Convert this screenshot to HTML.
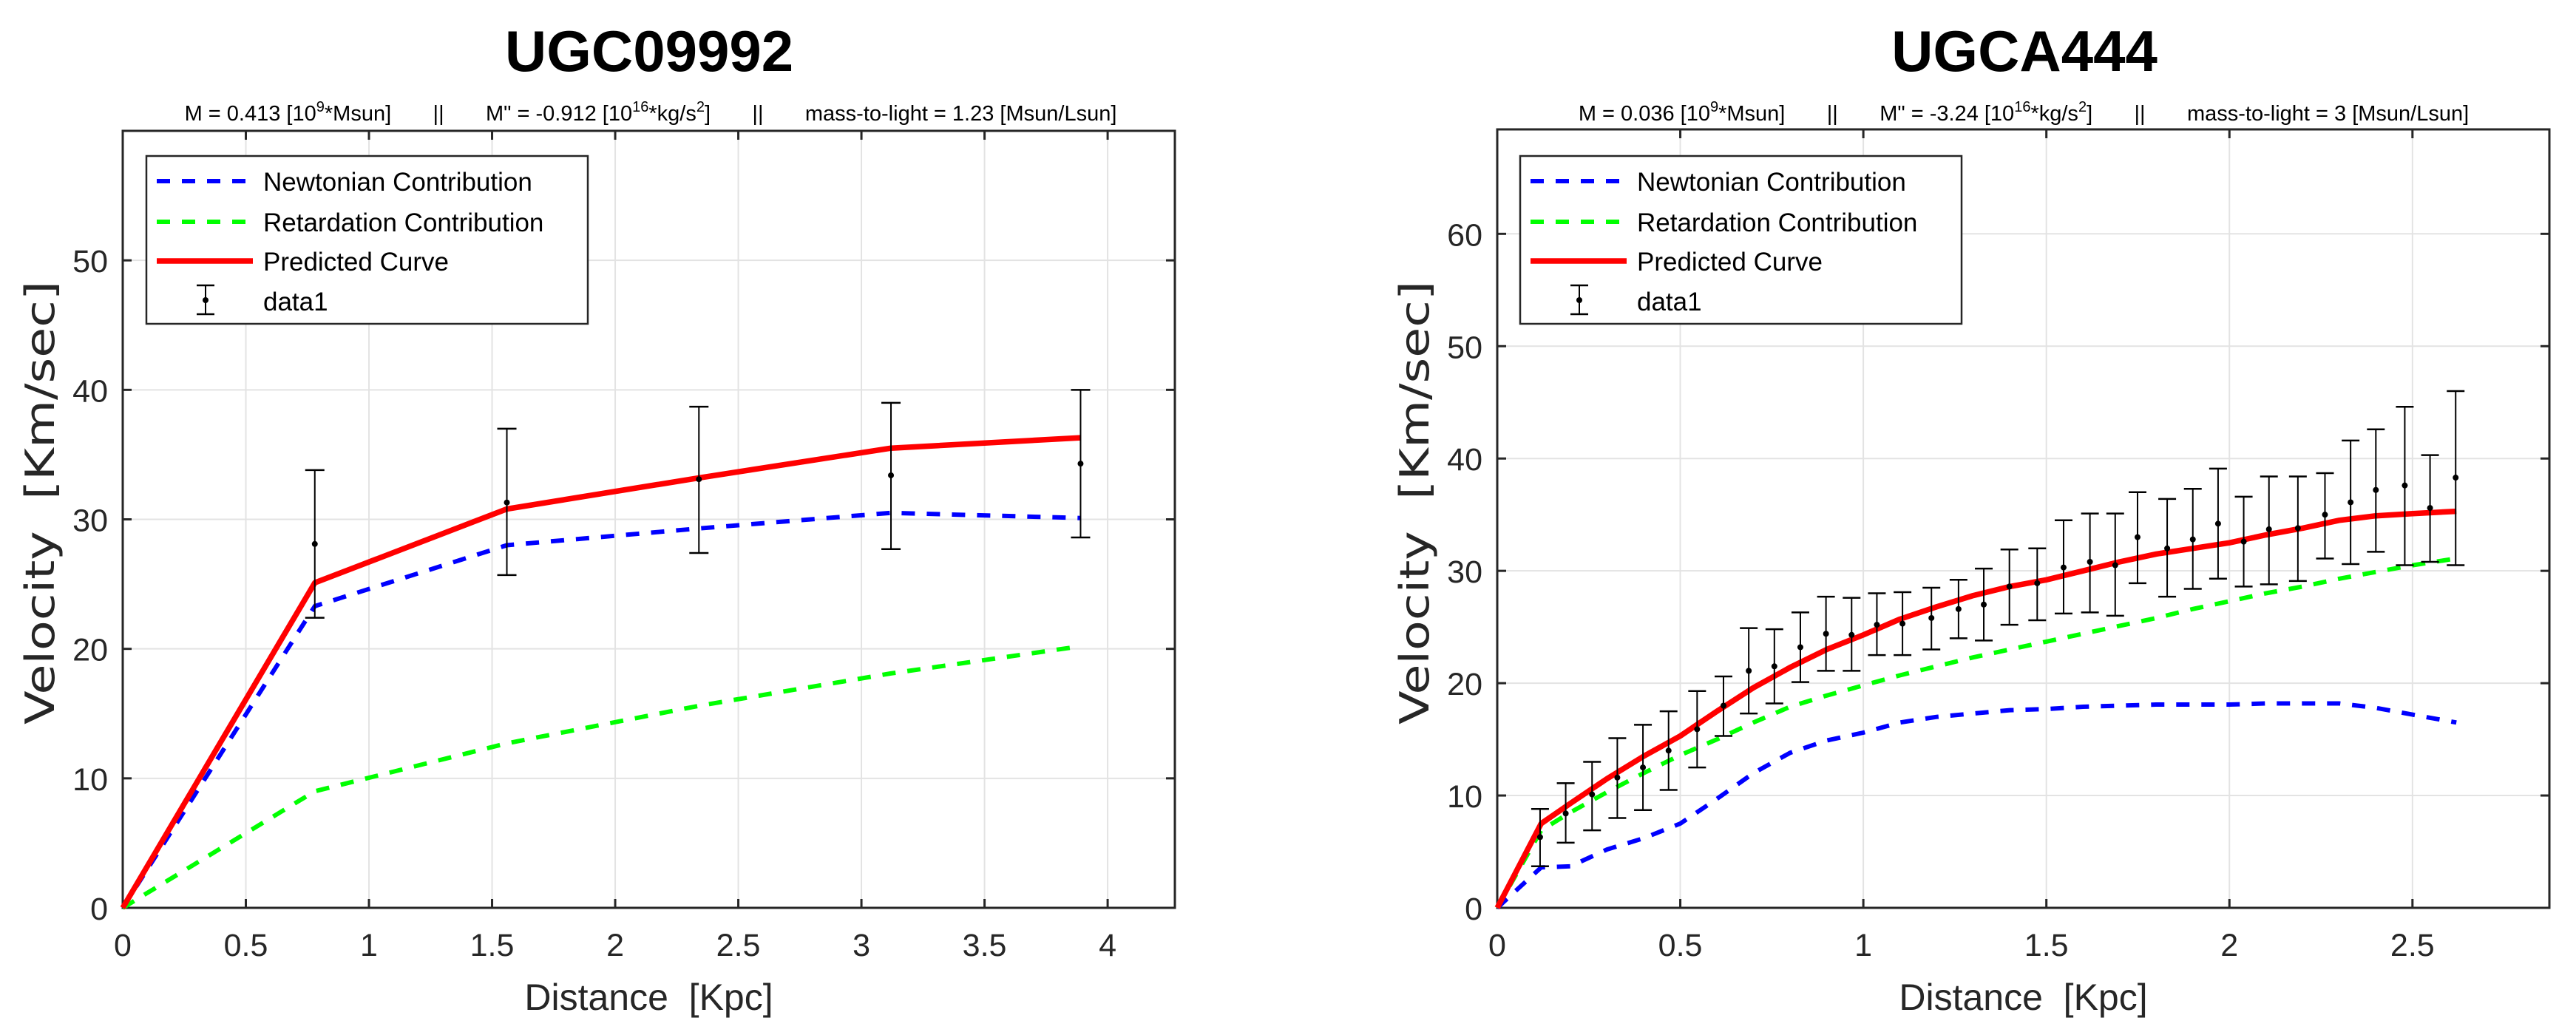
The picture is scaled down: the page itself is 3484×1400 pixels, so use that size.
<!DOCTYPE html>
<html><head><meta charset="utf-8"><style>
html,body{margin:0;padding:0;background:#fff;}
svg{display:block;font-family:"Liberation Sans",Arial,sans-serif;}
.pre{white-space:pre;}
</style></head><body>
<svg id="fig" width="3484" height="1400" viewBox="0 0 3484 1400" xmlns="http://www.w3.org/2000/svg"></svg>
<script>
// ---------- Left chart (UGC09992) data ----------
const leftCurveX = [0, 0.78, 1.56, 2.34, 3.12, 3.89];
const leftNewton = [0, 23.3, 28.0, 29.3, 30.5, 30.1];
const leftRetard = [0, 9.0, 12.7, 15.6, 18.1, 20.2];
const leftPred = [0, 25.1, 30.8, 33.2, 35.5, 36.3];
const leftDataX = [0.78, 1.56, 2.34, 3.12, 3.89];
const leftDataV = [28.1, 31.3, 33.1, 33.4, 34.3];
const leftDataLo = [22.4, 25.7, 27.4, 27.7, 28.6];
const leftDataHi = [33.8, 37.0, 38.7, 39.0, 40.0];
const leftXTicks = [0, 0.5, 1, 1.5, 2, 2.5, 3, 3.5, 4];
const leftYTicks = [0, 10, 20, 30, 40, 50];

// ---------- Right chart (UGCA444) data ----------
const rightCurveX = [0, 0.12, 0.2, 0.3, 0.4, 0.5, 0.6, 0.7, 0.8, 0.9, 1.0, 1.1, 1.2, 1.3, 1.4, 1.5, 1.6, 1.7, 1.8, 1.9, 2.0, 2.1, 2.2, 2.3, 2.4, 2.5, 2.62];
const rightNewton = [0, 3.6, 3.7, 5.2, 6.2, 7.5, 9.7, 12.0, 13.8, 14.9, 15.6, 16.5, 17.0, 17.3, 17.6, 17.7, 17.9, 18.0, 18.1, 18.1, 18.1, 18.2, 18.2, 18.2, 17.8, 17.2, 16.5];
const rightRetard = [0, 6.9, 8.5, 10.3, 12.0, 13.6, 15.0, 16.5, 17.9, 18.9, 19.8, 20.7, 21.5, 22.3, 23.0, 23.7, 24.4, 25.1, 25.8, 26.6, 27.3, 28.0, 28.6, 29.3, 29.9, 30.5, 31.1];
const rightPred = [0, 7.5, 9.3, 11.5, 13.5, 15.3, 17.5, 19.6, 21.4, 23.0, 24.3, 25.7, 26.8, 27.8, 28.6, 29.2, 30.0, 30.8, 31.5, 32.0, 32.5, 33.2, 33.8, 34.5, 34.9, 35.1, 35.3];
const rightDataX = [0.117, 0.187, 0.259, 0.328, 0.398, 0.468, 0.546, 0.618, 0.687, 0.757, 0.828, 0.898, 0.968, 1.037, 1.107, 1.186, 1.260, 1.329, 1.399, 1.475, 1.547, 1.619, 1.688, 1.749, 1.830, 1.900, 1.969, 2.039, 2.108, 2.187, 2.261, 2.331, 2.400, 2.479, 2.548, 2.618];
const rightDataV = [6.3, 8.4, 10.1, 11.6, 12.5, 14.0, 15.9, 18.0, 21.1, 21.5, 23.2, 24.4, 24.3, 25.2, 25.3, 25.8, 26.6, 27.0, 28.6, 28.9, 30.3, 30.8, 30.5, 33.0, 32.0, 32.8, 34.2, 32.6, 33.7, 33.8, 35.0, 36.1, 37.2, 37.6, 35.6, 38.3];
const rightDataLo = [3.7, 5.8, 6.9, 8.0, 8.7, 10.5, 12.5, 15.3, 17.3, 18.2, 20.1, 21.1, 21.1, 22.5, 22.5, 23.0, 24.0, 23.8, 25.2, 25.6, 26.2, 26.3, 26.0, 28.9, 27.7, 28.4, 29.3, 28.6, 28.8, 29.1, 31.1, 30.6, 31.7, 30.5, 30.8, 30.5];
const rightDataHi = [8.8, 11.1, 13.0, 15.1, 16.3, 17.5, 19.3, 20.6, 24.9, 24.8, 26.3, 27.7, 27.6, 28.0, 28.1, 28.5, 29.2, 30.2, 31.9, 32.0, 34.5, 35.1, 35.1, 37.0, 36.4, 37.3, 39.1, 36.6, 38.4, 38.4, 38.7, 41.6, 42.6, 44.6, 40.3, 46.0];
const rightXTicks = [0, 0.5, 1, 1.5, 2, 2.5];
const rightYTicks = [0, 10, 20, 30, 40, 50, 60];

const NS = "http://www.w3.org/2000/svg";
const svg = document.getElementById('fig');
function mk(tag, attrs, parent, text) {
  const e = document.createElementNS(NS, tag);
  for (const k in attrs) e.setAttribute(k, attrs[k]);
  if (text !== undefined) e.textContent = text;
  (parent || svg).appendChild(e);
  return e;
}

function drawChart(cfg) {
  const g = mk('g', {});
  
  
  const L = cfg.left, R = cfg.right, T = cfg.top, B = cfg.bottom;
  const sx = v => L + (v - 0) / cfg.xmax * (R - L);
  const sy = v => B - v / cfg.ymax * (B - T);

  cfg.xTicks.forEach(t => {
    if (t === 0) return;
    const l = mk('line', {x1: sx(t), x2: sx(t), y1: T, y2: B, stroke: '#e3e3e3', 'stroke-width': 2}, g);
    
    
  });
  cfg.yTicks.forEach(t => {
    if (t === 0) return;
    const l = mk('line', {x1: L, x2: R, y1: sy(t), y2: sy(t), stroke: '#e3e3e3', 'stroke-width': 2}, g);
    
    
  });

  cfg.xTicks.forEach(t => {
    mk('line', {x1: sx(t), x2: sx(t), y1: B, y2: B - 12, stroke: '#262626', 'stroke-width': 3}, g);
    mk('line', {x1: sx(t), x2: sx(t), y1: T, y2: T + 12, stroke: '#262626', 'stroke-width': 3}, g);
    const tx = mk('text', {x: sx(t), y: B + 65, 'font-size': 43, 'text-anchor': 'middle', fill: '#262626'}, g, String(t));
    
    
  });
  cfg.yTicks.forEach(t => {
    mk('line', {x1: L, x2: L + 12, y1: sy(t), y2: sy(t), stroke: '#262626', 'stroke-width': 3}, g);
    mk('line', {x1: R, x2: R - 12, y1: sy(t), y2: sy(t), stroke: '#262626', 'stroke-width': 3}, g);
    const tx = mk('text', {x: L - 20, y: sy(t) + 16, 'font-size': 43, 'text-anchor': 'end', fill: '#262626'}, g, String(t));
    
    
  });

  const box = mk('rect', {x: L, y: T, width: R - L, height: B - T, fill: 'none', stroke: '#262626', 'stroke-width': 3}, g);
  
  

  const pts = (xs, ys) => xs.map((x, i) => sx(x).toFixed(1) + ',' + sy(ys[i]).toFixed(1)).join(' ');
  const nl = mk('polyline', {points: pts(cfg.curveX, cfg.newton), fill: 'none', stroke: '#0000ff', 'stroke-width': 6, 'stroke-dasharray': '18 16'}, g);
  
  
  const rl = mk('polyline', {points: pts(cfg.curveX, cfg.retard), fill: 'none', stroke: '#00ff00', 'stroke-width': 6, 'stroke-dasharray': '18 16'}, g);
  
  
  const pl = mk('polyline', {points: pts(cfg.curveX, cfg.pred), fill: 'none', stroke: '#ff0000', 'stroke-width': 7.5, 'stroke-linejoin': 'round'}, g);
  
  

  cfg.dataX.forEach((x, i) => {
    const eg = mk('g', {}, g);
    
    
    const X = sx(x), yl = sy(cfg.lo[i]), yh = sy(cfg.hi[i]), yv = sy(cfg.vals[i]);
    mk('line', {x1: X, x2: X, y1: yl, y2: yh, stroke: '#000', 'stroke-width': 2}, eg);
    mk('line', {x1: X - cfg.cap, x2: X + cfg.cap, y1: yl, y2: yl, stroke: '#000', 'stroke-width': 2.5}, eg);
    mk('line', {x1: X - cfg.cap, x2: X + cfg.cap, y1: yh, y2: yh, stroke: '#000', 'stroke-width': 2.5}, eg);
    mk('circle', {cx: X, cy: yv, r: 4, fill: '#000'}, eg);
  });

  const ti = mk('text', {x: cfg.titleX, y: 96, 'font-size': 78, 'font-weight': 'bold', 'text-anchor': 'middle', fill: '#000'}, g, cfg.title);
  
  
  const st = mk('text', {x: cfg.subX, y: 163, 'font-size': 29, 'text-anchor': 'middle', fill: '#000', 'class': 'pre'}, g);
  
  
  cfg.sub.forEach(p => {
    mk('tspan', p.sup ? {'font-size': 20, dy: p.dy, 'class': 'pre'} : {'dy': p.dy || 0, 'class': 'pre'}, st, p.t);
  });

  const xl = mk('text', {x: (L + R) / 2, y: 1366, 'font-size': 50, 'text-anchor': 'middle', fill: '#262626', 'class': 'pre'}, g, 'Distance  [Kpc]');
  
  
  const yc = 680;
  const yl = mk('text', {x: cfg.ylabX, y: yc, 'font-size': 54, 'font-family': '"DejaVu Sans", sans-serif', 'text-anchor': 'middle', fill: '#262626', textLength: 600, lengthAdjust: 'spacingAndGlyphs', transform: `rotate(-90 ${cfg.ylabX} ${yc})`, 'class': 'pre'}, g, 'Velocity  [Km/sec]');
  
  

  const lg = mk('g', {}, g);
  
  
  const lx = cfg.legX;
  mk('rect', {x: lx, y: 211, width: 597, height: 227, fill: '#fff', stroke: '#262626', 'stroke-width': 2.5}, lg);
  const rows = [
    {t: 'Newtonian Contribution', y: 258, c: '#0000ff', d: '18 16', w: 6},
    {t: 'Retardation Contribution', y: 313, c: '#00ff00', d: '18 16', w: 6},
    {t: 'Predicted Curve', y: 366, c: '#ff0000', d: null, w: 7.5},
    {t: 'data1', y: 420, c: null}
  ];
  rows.forEach(r => {
    const e = mk('g', {}, lg);
    
    
    if (r.c) {
      const a = {x1: lx + 14, x2: lx + 144, y1: r.y - 13, y2: r.y - 13, stroke: r.c, 'stroke-width': r.w};
      if (r.d) { a['stroke-dasharray'] = r.d; a.x2 = lx + 136; }
      mk('line', a, e);
    } else {
      const X = lx + 80;
      mk('line', {x1: X, x2: X, y1: 386, y2: 425, stroke: '#000', 'stroke-width': 2}, e);
      mk('line', {x1: X - 12, x2: X + 12, y1: 386, y2: 386, stroke: '#000', 'stroke-width': 2.5}, e);
      mk('line', {x1: X - 12, x2: X + 12, y1: 425, y2: 425, stroke: '#000', 'stroke-width': 2.5}, e);
      mk('circle', {cx: X, cy: 406, r: 4, fill: '#000'}, e);
    }
    mk('text', {x: lx + 158, y: r.y, 'font-size': 35, fill: '#000'}, e, r.t);
  });
}

drawChart({
  name: 'chart-ugc09992', left: 166, right: 1589, top: 177, bottom: 1228, xmax: 4.273, ymax: 60,
  curveX: leftCurveX, newton: leftNewton, retard: leftRetard, pred: leftPred,
  dataX: leftDataX, vals: leftDataV, lo: leftDataLo, hi: leftDataHi,
  xTicks: leftXTicks, yTicks: leftYTicks, cap: 13,
  title: 'UGC09992', titleX: 878, subX: 880, ylabX: 73, legX: 198,
  sub: [{t: 'M = 0.413 [10'}, {t: '9', sup: 1, dy: -12}, {t: '*Msun]       ||       M" = -0.912 [10', dy: 12}, {t: '16', sup: 1, dy: -12}, {t: '*kg/s', dy: 12}, {t: '2', sup: 1, dy: -12}, {t: ']       ||       mass-to-light = 1.23 [Msun/Lsun]', dy: 12}]
});
drawChart({
  name: 'chart-ugca444', left: 2025, right: 3448, top: 175, bottom: 1228, xmax: 2.874, ymax: 69.3,
  curveX: rightCurveX, newton: rightNewton, retard: rightRetard, pred: rightPred,
  dataX: rightDataX, vals: rightDataV, lo: rightDataLo, hi: rightDataHi,
  xTicks: rightXTicks, yTicks: rightYTicks, cap: 12,
  title: 'UGCA444', titleX: 2738, subX: 2737, ylabX: 1932, legX: 2056,
  sub: [{t: 'M = 0.036 [10'}, {t: '9', sup: 1, dy: -12}, {t: '*Msun]       ||       M" = -3.24 [10', dy: 12}, {t: '16', sup: 1, dy: -12}, {t: '*kg/s', dy: 12}, {t: '2', sup: 1, dy: -12}, {t: ']       ||       mass-to-light = 3 [Msun/Lsun]', dy: 12}]
});
</script>
</body></html>
